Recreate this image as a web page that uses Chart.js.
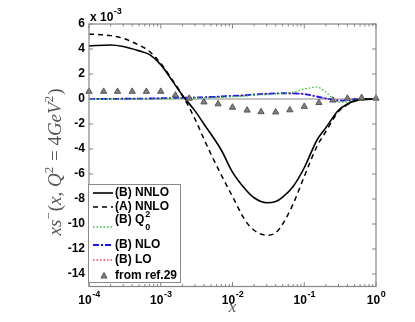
<!DOCTYPE html>
<html><head><meta charset="utf-8">
<script src="https://cdn.jsdelivr.net/npm/chart.js@4"></script>
<style>html,body{margin:0;padding:0;background:#fff;overflow:hidden}#wrap{width:415px;height:322px;position:relative}</style>
</head><body><div id="wrap"><canvas id="c" width="415" height="322"></canvas></div>
<script>
// x grid (log scale) shared by the curves
const xGrid = [1e-4,2e-4,3e-4,5e-4,7e-4,1e-3,1.5e-3,2e-3,3e-3,4e-3,5e-3,7e-3,1e-2,1.5e-2,2e-2,3e-2,4e-2,5e-2,7e-2,0.1,0.15,0.2,0.3,0.4,0.5,0.7,1];
// values in units of 1e-3
const nnloB = [4.25,4.32,4.2,3.85,3.55,2.75,1.33,0.3,-0.95,-2.0,-2.8,-4.1,-5.85,-7.2,-7.9,-8.3,-8.2,-7.85,-7.0,-5.5,-3.3,-2.3,-0.9,-0.4,-0.15,-0.03,0];
const nnloA = [5.2,5.07,4.85,4.3,3.8,2.85,1.4,0.3,-1.6,-3.2,-4.4,-6.1,-7.8,-9.7,-10.5,-10.9,-10.7,-10.0,-8.4,-6.2,-3.8,-2.6,-1.0,-0.45,-0.18,-0.04,0];
const q0B   = [-0.02,-0.02,-0.01,0,0.01,0.02,0.04,0.06,0.08,0.1,0.12,0.14,0.18,0.24,0.3,0.36,0.4,0.45,0.55,0.8,0.95,0.55,-0.25,-0.25,-0.05,0,0];
const nloB  = [0,0.01,0.02,0.03,0.04,0.06,0.08,0.1,0.12,0.14,0.16,0.2,0.25,0.3,0.36,0.42,0.45,0.46,0.45,0.4,0.2,0.05,-0.13,-0.1,-0.02,0,0];
const loB   = [0,0.01,0.02,0.03,0.04,0.05,0.07,0.09,0.11,0.13,0.15,0.19,0.23,0.28,0.34,0.4,0.43,0.44,0.43,0.38,0.19,0.04,-0.12,-0.09,-0.02,0,0];
// reference points (from ref.29)
const refX = [1.0e-4,1.6e-4,2.5e-4,4.0e-4,6.3e-4,1.0e-3,1.6e-3,2.5e-3,4.0e-3,6.3e-3,1.0e-2,1.6e-2,2.5e-2,4.0e-2,6.3e-2,0.1,0.16,0.25,0.4,0.63,1.0];
const refY = [0.6,0.6,0.6,0.6,0.6,0.6,0.3,0.05,-0.25,-0.4,-0.67,-0.9,-1.03,-1.05,-0.88,-0.6,-0.3,-0.1,0.05,0.1,0.05];
// axes
const xTicks = [1e-4,1e-3,1e-2,1e-1,1];
const yTicks = [-14,-12,-10,-8,-6,-4,-2,0,2,4,6];
const seriesLabels = ['from ref.29','(B) NNLO','(A) NNLO','(B) Q\u2080\u00B2','(B) NLO','(B) LO'];

const pts = (xs, ys) => xs.map((v,i)=>({x:v,y:ys[i]}));
const AX = '#858585';

const deco = {
  id:'deco',
  beforeDatasetsDraw(chart){
    const {ctx, chartArea:a, scales:{y}} = chart;
    const y0 = y.getPixelForValue(0);
    ctx.save(); ctx.strokeStyle='#c4c4c4'; ctx.lineWidth=2;
    ctx.beginPath(); ctx.moveTo(a.left,y0); ctx.lineTo(a.right,y0); ctx.stroke(); ctx.restore();
  },
  afterDraw(chart){
    const {ctx, chartArea:a, scales:{x,y}} = chart;
    ctx.save();
    // box
    ctx.strokeStyle=AX; ctx.lineWidth=1.2;
    ctx.strokeRect(a.left,a.top,a.right-a.left,a.bottom-a.top);
    // y ticks inward, left and right
    ctx.lineWidth=1;
    yTicks.forEach(v=>{const p=y.getPixelForValue(v);
      ctx.beginPath(); ctx.moveTo(a.left,p); ctx.lineTo(a.left+4,p);
      ctx.moveTo(a.right,p); ctx.lineTo(a.right-4,p); ctx.stroke();});
    // x ticks (major + minor)
    for(let k=-4;k<=0;k++){
      for(let m=1;m<=9;m++){
        const v=m*Math.pow(10,k); if(v>1.0000001) break;
        const p=x.getPixelForValue(v); const L=(m===1)?4.5:2.5;
        ctx.beginPath(); ctx.moveTo(p,a.bottom); ctx.lineTo(p,a.bottom-L);
        ctx.moveTo(p,a.top); ctx.lineTo(p,a.top+L); ctx.stroke();
      }
    }
    // x tick labels 10^k
    ctx.fillStyle='#000'; ctx.textBaseline='alphabetic'; ctx.textAlign='left';
    xTicks.forEach(v=>{
      const e=Math.round(Math.log10(v)); const es=(e<0?'-':'')+Math.abs(e);
      ctx.font='bold 12px "Liberation Sans", Arial, sans-serif'; const w1=ctx.measureText('10').width;
      ctx.font='bold 9px "Liberation Sans", Arial, sans-serif'; const w2=ctx.measureText(es).width;
      const p=x.getPixelForValue(v); const s=p-(w1+w2)/2;
      ctx.font='bold 12px "Liberation Sans", Arial, sans-serif'; ctx.fillText('10',s,304);
      ctx.font='bold 9px "Liberation Sans", Arial, sans-serif'; ctx.fillText(es,s+w1+0.5,297);
    });
    // multiplier
    ctx.font='bold 12px "Liberation Sans", Arial, sans-serif'; ctx.fillText('x 10',a.left+1,21);
    const wm=ctx.measureText('x 10').width;
    ctx.font='bold 9px "Liberation Sans", Arial, sans-serif'; ctx.fillText('-3',a.left+1+wm+0.5,14);
    // x title
    ctx.fillStyle='#555'; ctx.font='italic 17px "Liberation Serif", "DejaVu Serif", serif';
    ctx.textAlign='center'; ctx.fillText('x',x.getPixelForValue(0.01),312);
    // y title
    const parts=[['xs','i'],['\u2212','s'],['(','r'],['x','i'],[', ','r'],['Q','i'],['2','s'],[' = 4','r'],['GeV','i'],['2','s'],[')','r']];
    const fontFor=t=>t==='i'?'italic 19px "Liberation Serif", serif':(t==='s'?'13px "Liberation Serif", serif':'19px "Liberation Serif", serif');
    let tw=0; parts.forEach(p=>{ctx.font=fontFor(p[1]); tw+=ctx.measureText(p[0]).width+(p[1]==='s'?1:0);});
    ctx.translate(61,162); ctx.rotate(-Math.PI/2); ctx.textAlign='left';
    let cx=-tw/2;
    parts.forEach(p=>{ctx.font=fontFor(p[1]); ctx.fillText(p[0],cx,p[1]==='s'?-8:0); cx+=ctx.measureText(p[0]).width+(p[1]==='s'?1:0);});
    ctx.setTransform(1,0,0,1,0,0);
    // legend
    const L={l:88.5,t:184.5,r:180.5,b:282.5};
    ctx.fillStyle='#fff'; ctx.fillRect(L.l,L.t,L.r-L.l,L.b-L.t);
    ctx.strokeStyle='#8a8a8a'; ctx.lineWidth=1; ctx.strokeRect(L.l,L.t,L.r-L.l,L.b-L.t);
    const ds=chart.data.datasets;
    const rows=[[1,193],[2,207],[3,227],[4,245],[5,260]];
    rows.forEach(([i,yy])=>{
      const d=ds[i];
      ctx.save(); ctx.strokeStyle=d.borderColor; ctx.lineWidth=d.borderWidth; ctx.setLineDash(d.borderDash||[]);
      ctx.beginPath(); ctx.moveTo(93,yy); ctx.lineTo(113,yy); ctx.stroke(); ctx.restore();
    });
    ctx.fillStyle='#000'; ctx.textAlign='left'; ctx.textBaseline='middle';
    ctx.font='bold 12px "Liberation Sans", Arial, sans-serif';
    ctx.fillText('(B) NNLO',115,193);
    ctx.fillText('(A) NNLO',115,207);
    ctx.fillText('(B) Q',115,220);
    const wq=ctx.measureText('(B) Q').width;
    ctx.font='bold 9px "Liberation Sans", Arial, sans-serif';
    ctx.fillText('2',115+wq+1,215); ctx.fillText('0',115+wq+1,228);
    ctx.font='bold 12px "Liberation Sans", Arial, sans-serif';
    ctx.fillText('(B) NLO',115,245);
    ctx.fillText('(B) LO',115,260);
    ctx.fillText('from ref.29',115,276);
    // triangle marker in legend
    ctx.fillStyle=ds[0].backgroundColor; ctx.strokeStyle=ds[0].borderColor; ctx.lineWidth=1;
    ctx.beginPath(); ctx.moveTo(104,272.5); ctx.lineTo(107,278); ctx.lineTo(101,278); ctx.closePath(); ctx.fill(); ctx.stroke();
    ctx.restore();
  }
};

new Chart(document.getElementById('c'), {
  type:'scatter',
  data:{datasets:[
    {label:seriesLabels[0], data:pts(refX,refY), showLine:false, pointStyle:'triangle', pointRadius:3.6, backgroundColor:'#808080', borderColor:'#555', borderWidth:1, clip:false},
    {label:seriesLabels[1], data:pts(xGrid,nnloB), showLine:true, borderColor:'#000', borderWidth:1.6, pointRadius:0, cubicInterpolationMode:'monotone'},
    {label:seriesLabels[2], data:pts(xGrid,nnloA), showLine:true, borderColor:'#000', borderWidth:1.5, borderDash:[5,4], pointRadius:0, cubicInterpolationMode:'monotone'},
    {label:seriesLabels[3], data:pts(xGrid,q0B), showLine:true, borderColor:'#2ec42e', borderWidth:1.3, borderDash:[1.5,2], pointRadius:0, cubicInterpolationMode:'monotone'},
    {label:seriesLabels[4], data:pts(xGrid,nloB), showLine:true, borderColor:'#1515ff', borderWidth:1.8, borderDash:[6,2,2,2], pointRadius:0, cubicInterpolationMode:'monotone'},
    {label:seriesLabels[5], data:pts(xGrid,loB), showLine:true, borderColor:'#ff4040', borderWidth:1.3, borderDash:[1.5,2], pointRadius:0, cubicInterpolationMode:'monotone'}
  ]},
  options:{
    responsive:false, animation:false, devicePixelRatio:1,
    layout:{padding:{left:0,right:39,top:24,bottom:0}},
    plugins:{legend:{display:false}, tooltip:{enabled:false}},
    scales:{
      x:{type:'logarithmic', min:1e-4, max:1,
         afterBuildTicks:s=>{s.ticks=xTicks.map(v=>({value:v}));},
         afterFit:s=>{s.height=35.5;},
         grid:{display:false}, border:{display:false}, ticks:{display:false}},
      y:{type:'linear', min:-15, max:6,
         afterBuildTicks:s=>{s.ticks=yTicks.map(v=>({value:v}));},
         afterFit:s=>{s.width=89;},
         grid:{display:false, drawTicks:false}, border:{display:false},
         ticks:{padding:4, color:'#000', font:{family:'"Liberation Sans", Arial, sans-serif', size:12, weight:'bold'}, callback:v=>String(v)}}
    }
  },
  plugins:[deco]
});
</script></body></html>
